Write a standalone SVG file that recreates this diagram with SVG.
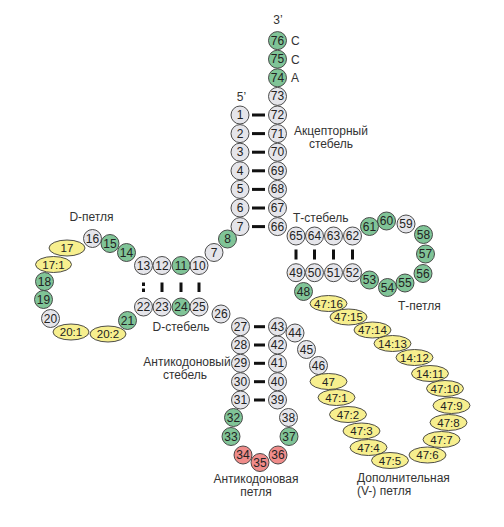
<svg xmlns="http://www.w3.org/2000/svg" width="504" height="527" viewBox="0 0 504 527">
<style>
circle{stroke:#3a3a3a;stroke-width:0.9}
ellipse{stroke:#3a3a3a;stroke-width:0.9;fill:#f7ef8e}
.g use{fill:#e5e5ea}
.n use{fill:#80c497}
.r use{fill:#ef8c8a}
text{font-family:"Liberation Sans",Arial,sans-serif;fill:#222}
.node text{font-size:12px;text-anchor:middle;dominant-baseline:central}
.y text{font-size:11.5px}
.lbl{font-size:12px;fill:#333}
.c{text-anchor:middle}
.b{fill:#111}
</style>
<defs>
<circle id="c" r="9"/>
</defs>
<rect width="504" height="527" fill="#fff"/>
<g id="connectors">
<rect class="b" x="252" y="113.5" width="13" height="3"/>
<rect class="b" x="252" y="132.1" width="13" height="3"/>
<rect class="b" x="252" y="150.7" width="13" height="3"/>
<rect class="b" x="252" y="169.3" width="13" height="3"/>
<rect class="b" x="252" y="187.9" width="13" height="3"/>
<rect class="b" x="252" y="206.5" width="13" height="3"/>
<rect class="b" x="252" y="225.1" width="13" height="3"/>
<rect class="b" x="142" y="282.5" width="3" height="3.5"/>
<rect class="b" x="142" y="288.5" width="3" height="3.5"/>
<rect class="b" x="160.5" y="282.5" width="3" height="9.5"/>
<rect class="b" x="179.5" y="282.5" width="3" height="9.5"/>
<rect class="b" x="197.5" y="282.5" width="3" height="9.5"/>
<rect class="b" x="294.5" y="249.5" width="3" height="10"/>
<rect class="b" x="313" y="249.5" width="3" height="10"/>
<rect class="b" x="332" y="249.5" width="3" height="10"/>
<rect class="b" x="351" y="249.5" width="3" height="10"/>
<rect class="b" x="254" y="325.2" width="11" height="3"/>
<rect class="b" x="254" y="343.5" width="11" height="3"/>
<rect class="b" x="254" y="361.8" width="11" height="3"/>
<rect class="b" x="254" y="380.2" width="11" height="3"/>
<rect class="b" x="254" y="398.5" width="11" height="3"/>
</g>
<g id="labels">
<text class="lbl c" x="278" y="24">3’</text>
<text class="lbl c" x="241.5" y="101">5’</text>
<text class="lbl" x="291" y="45">C</text>
<text class="lbl" x="291" y="64">C</text>
<text class="lbl" x="291" y="82">A</text>
<text class="lbl c" x="331" y="135">Акцепторный</text>
<text class="lbl c" x="331" y="148">стебель</text>
<text class="lbl" x="293" y="222">Т-стебель</text>
<text class="lbl c" x="91.5" y="221">D-петля</text>
<text class="lbl c" x="181" y="331">D-стебель</text>
<text class="lbl" x="398" y="310">Т-петля</text>
<text class="lbl c" x="187" y="366">Антикодоновый</text>
<text class="lbl c" x="185" y="379">стебель</text>
<text class="lbl c" x="256" y="483">Антикодоновая</text>
<text class="lbl c" x="256" y="496">петля</text>
<text class="lbl" x="357" y="482">Дополнительная</text>
<text class="lbl" x="357" y="495">(V-) петля</text>
</g>
<g id="n1" class="node g"><use href="#c" x="240" y="115"/><text x="240" y="115">1</text></g>
<g id="n2" class="node g"><use href="#c" x="240" y="133.6"/><text x="240" y="133.6">2</text></g>
<g id="n3" class="node g"><use href="#c" x="240" y="152.2"/><text x="240" y="152.2">3</text></g>
<g id="n4" class="node g"><use href="#c" x="240" y="170.8"/><text x="240" y="170.8">4</text></g>
<g id="n5" class="node g"><use href="#c" x="240" y="189.4"/><text x="240" y="189.4">5</text></g>
<g id="n6" class="node g"><use href="#c" x="240" y="208"/><text x="240" y="208">6</text></g>
<g id="n7" class="node g"><use href="#c" x="240" y="226.6"/><text x="240" y="226.6">7</text></g>
<g id="n76" class="node n"><use href="#c" x="277.5" y="40.6"/><text x="277.5" y="40.6">76</text></g>
<g id="n75" class="node n"><use href="#c" x="277.5" y="59.2"/><text x="277.5" y="59.2">75</text></g>
<g id="n74" class="node n"><use href="#c" x="277.5" y="77.8"/><text x="277.5" y="77.8">74</text></g>
<g id="n73" class="node g"><use href="#c" x="277.5" y="96.4"/><text x="277.5" y="96.4">73</text></g>
<g id="n72" class="node g"><use href="#c" x="277.5" y="115"/><text x="277.5" y="115">72</text></g>
<g id="n71" class="node g"><use href="#c" x="277.5" y="133.6"/><text x="277.5" y="133.6">71</text></g>
<g id="n70" class="node g"><use href="#c" x="277.5" y="152.2"/><text x="277.5" y="152.2">70</text></g>
<g id="n69" class="node g"><use href="#c" x="277.5" y="170.8"/><text x="277.5" y="170.8">69</text></g>
<g id="n68" class="node g"><use href="#c" x="277.5" y="189.4"/><text x="277.5" y="189.4">68</text></g>
<g id="n67" class="node g"><use href="#c" x="277.5" y="208"/><text x="277.5" y="208">67</text></g>
<g id="n66" class="node g"><use href="#c" x="277.5" y="226.6"/><text x="277.5" y="226.6">66</text></g>
<g id="n8" class="node n"><use href="#c" x="227.5" y="239"/><text x="227.5" y="239">8</text></g>
<g id="n9" class="node g"><use href="#c" x="214" y="252.5"/><text x="214" y="252.5">7</text></g>
<g id="n10" class="node g"><use href="#c" x="199" y="265.5"/><text x="199" y="265.5">10</text></g>
<g id="n11" class="node n"><use href="#c" x="181" y="265.5"/><text x="181" y="265.5">11</text></g>
<g id="n12" class="node g"><use href="#c" x="162" y="265.5"/><text x="162" y="265.5">12</text></g>
<g id="n13" class="node g"><use href="#c" x="143.5" y="265.5"/><text x="143.5" y="265.5">13</text></g>
<g id="n14" class="node n"><use href="#c" x="126.5" y="252.5"/><text x="126.5" y="252.5">14</text></g>
<g id="n15" class="node n"><use href="#c" x="110" y="243.5"/><text x="110" y="243.5">15</text></g>
<g id="n16" class="node g"><use href="#c" x="92.5" y="238.5"/><text x="92.5" y="238.5">16</text></g>
<g id="n17" class="node y"><ellipse cx="67" cy="248" rx="18" ry="8"/><text x="67" y="248">17</text></g>
<g id="n17-1" class="node y"><ellipse cx="53.5" cy="264.5" rx="18" ry="8"/><text x="53.5" y="264.5">17:1</text></g>
<g id="n18" class="node n"><use href="#c" x="44.5" y="281.5"/><text x="44.5" y="281.5">18</text></g>
<g id="n19" class="node n"><use href="#c" x="43.5" y="299.5"/><text x="43.5" y="299.5">19</text></g>
<g id="n20" class="node g"><use href="#c" x="50.5" y="318.5"/><text x="50.5" y="318.5">20</text></g>
<g id="n20-1" class="node y"><ellipse cx="71" cy="332" rx="18" ry="8"/><text x="71" y="332">20:1</text></g>
<g id="n20-2" class="node y"><ellipse cx="108" cy="334" rx="18" ry="8"/><text x="108" y="334">20:2</text></g>
<g id="n21" class="node n"><use href="#c" x="127.5" y="320.5"/><text x="127.5" y="320.5">21</text></g>
<g id="n22" class="node g"><use href="#c" x="143.5" y="307"/><text x="143.5" y="307">22</text></g>
<g id="n23" class="node g"><use href="#c" x="162" y="307"/><text x="162" y="307">23</text></g>
<g id="n24" class="node n"><use href="#c" x="181" y="307"/><text x="181" y="307">24</text></g>
<g id="n25" class="node g"><use href="#c" x="199" y="307"/><text x="199" y="307">25</text></g>
<g id="n26" class="node g"><use href="#c" x="221" y="314"/><text x="221" y="314">26</text></g>
<g id="n27" class="node g"><use href="#c" x="240.5" y="326.7"/><text x="240.5" y="326.7">27</text></g>
<g id="n28" class="node g"><use href="#c" x="240.5" y="345"/><text x="240.5" y="345">28</text></g>
<g id="n29" class="node g"><use href="#c" x="240.5" y="363.3"/><text x="240.5" y="363.3">29</text></g>
<g id="n30" class="node g"><use href="#c" x="240.5" y="381.7"/><text x="240.5" y="381.7">30</text></g>
<g id="n31" class="node g"><use href="#c" x="240.5" y="400"/><text x="240.5" y="400">31</text></g>
<g id="n32" class="node n"><use href="#c" x="233.5" y="417.5"/><text x="233.5" y="417.5">32</text></g>
<g id="n33" class="node n"><use href="#c" x="231" y="436.5"/><text x="231" y="436.5">33</text></g>
<g id="n34" class="node r"><use href="#c" x="243" y="455"/><text x="243" y="455">34</text></g>
<g id="n35" class="node r"><use href="#c" x="260" y="462.5"/><text x="260" y="462.5">35</text></g>
<g id="n36" class="node r"><use href="#c" x="278" y="455"/><text x="278" y="455">36</text></g>
<g id="n37" class="node n"><use href="#c" x="289" y="436.5"/><text x="289" y="436.5">37</text></g>
<g id="n38" class="node g"><use href="#c" x="288.5" y="417.5"/><text x="288.5" y="417.5">38</text></g>
<g id="n39" class="node g"><use href="#c" x="277.5" y="400"/><text x="277.5" y="400">39</text></g>
<g id="n40" class="node g"><use href="#c" x="277.5" y="381.7"/><text x="277.5" y="381.7">40</text></g>
<g id="n41" class="node g"><use href="#c" x="277.5" y="363.3"/><text x="277.5" y="363.3">41</text></g>
<g id="n42" class="node g"><use href="#c" x="277.5" y="345"/><text x="277.5" y="345">42</text></g>
<g id="n43" class="node g"><use href="#c" x="277.5" y="326.7"/><text x="277.5" y="326.7">43</text></g>
<g id="n44" class="node g"><use href="#c" x="295" y="333"/><text x="295" y="333">44</text></g>
<g id="n45" class="node g"><use href="#c" x="306.5" y="349.5"/><text x="306.5" y="349.5">45</text></g>
<g id="n46" class="node g"><use href="#c" x="318.5" y="365.5"/><text x="318.5" y="365.5">46</text></g>
<g id="n47" class="node y"><ellipse cx="328.5" cy="381.5" rx="18.5" ry="8"/><text x="328.5" y="381.5">47</text></g>
<g id="n47-1" class="node y"><ellipse cx="336.5" cy="397.5" rx="18.5" ry="8"/><text x="336.5" y="397.5">47:1</text></g>
<g id="n47-2" class="node y"><ellipse cx="348" cy="414.5" rx="18.5" ry="8"/><text x="348" y="414.5">47:2</text></g>
<g id="n47-3" class="node y"><ellipse cx="361.5" cy="431" rx="18.5" ry="8"/><text x="361.5" y="431">47:3</text></g>
<g id="n47-4" class="node y"><ellipse cx="368.5" cy="447.5" rx="18.5" ry="8"/><text x="368.5" y="447.5">47:4</text></g>
<g id="n47-5" class="node y"><ellipse cx="390" cy="460.5" rx="18.5" ry="8"/><text x="390" y="460.5">47:5</text></g>
<g id="n47-6" class="node y"><ellipse cx="427.5" cy="455" rx="18.5" ry="8"/><text x="427.5" y="455">47:6</text></g>
<g id="n47-7" class="node y"><ellipse cx="441.5" cy="439.5" rx="18.5" ry="8"/><text x="441.5" y="439.5">47:7</text></g>
<g id="n47-8" class="node y"><ellipse cx="448.5" cy="422.5" rx="18.5" ry="8"/><text x="448.5" y="422.5">47:8</text></g>
<g id="n47-9" class="node y"><ellipse cx="451.5" cy="405.5" rx="18.5" ry="8"/><text x="451.5" y="405.5">47:9</text></g>
<g id="n47-10" class="node y"><ellipse cx="445" cy="388.5" rx="18.5" ry="8"/><text x="445" y="388.5">47:10</text></g>
<g id="n14-11" class="node y"><ellipse cx="430" cy="373.5" rx="18.5" ry="8"/><text x="430" y="373.5">14:11</text></g>
<g id="n14-12" class="node y"><ellipse cx="414.5" cy="357.5" rx="18.5" ry="8"/><text x="414.5" y="357.5">14:12</text></g>
<g id="n14-13" class="node y"><ellipse cx="392.5" cy="343.5" rx="18.5" ry="8"/><text x="392.5" y="343.5">14:13</text></g>
<g id="n47-14" class="node y"><ellipse cx="372.5" cy="330" rx="18.5" ry="8"/><text x="372.5" y="330">47:14</text></g>
<g id="n47-15" class="node y"><ellipse cx="348.5" cy="317" rx="18.5" ry="8"/><text x="348.5" y="317">47:15</text></g>
<g id="n47-16" class="node y"><ellipse cx="328.5" cy="303.5" rx="18.5" ry="8"/><text x="328.5" y="303.5">47:16</text></g>
<g id="n48" class="node n"><use href="#c" x="303.5" y="291.5"/><text x="303.5" y="291.5">48</text></g>
<g id="n49" class="node g"><use href="#c" x="296" y="272.7"/><text x="296" y="272.7">49</text></g>
<g id="n50" class="node g"><use href="#c" x="314.5" y="272.7"/><text x="314.5" y="272.7">50</text></g>
<g id="n51" class="node g"><use href="#c" x="333.5" y="272.7"/><text x="333.5" y="272.7">51</text></g>
<g id="n52" class="node g"><use href="#c" x="352.5" y="272.7"/><text x="352.5" y="272.7">52</text></g>
<g id="n53" class="node n"><use href="#c" x="369.5" y="280"/><text x="369.5" y="280">53</text></g>
<g id="n54" class="node n"><use href="#c" x="387.5" y="287.5"/><text x="387.5" y="287.5">54</text></g>
<g id="n55" class="node n"><use href="#c" x="405" y="283"/><text x="405" y="283">55</text></g>
<g id="n56" class="node n"><use href="#c" x="423" y="273.5"/><text x="423" y="273.5">56</text></g>
<g id="n57" class="node n"><use href="#c" x="425.5" y="254"/><text x="425.5" y="254">57</text></g>
<g id="n58" class="node n"><use href="#c" x="423.5" y="234.5"/><text x="423.5" y="234.5">58</text></g>
<g id="n59" class="node g"><use href="#c" x="406" y="224"/><text x="406" y="224">59</text></g>
<g id="n60" class="node n"><use href="#c" x="386.5" y="221"/><text x="386.5" y="221">60</text></g>
<g id="n61" class="node n"><use href="#c" x="369.5" y="226.5"/><text x="369.5" y="226.5">61</text></g>
<g id="n62" class="node g"><use href="#c" x="352.5" y="236"/><text x="352.5" y="236">62</text></g>
<g id="n63" class="node g"><use href="#c" x="333.5" y="236"/><text x="333.5" y="236">63</text></g>
<g id="n64" class="node g"><use href="#c" x="314.5" y="236"/><text x="314.5" y="236">64</text></g>
<g id="n65" class="node g"><use href="#c" x="296" y="236"/><text x="296" y="236">65</text></g>
</svg>
